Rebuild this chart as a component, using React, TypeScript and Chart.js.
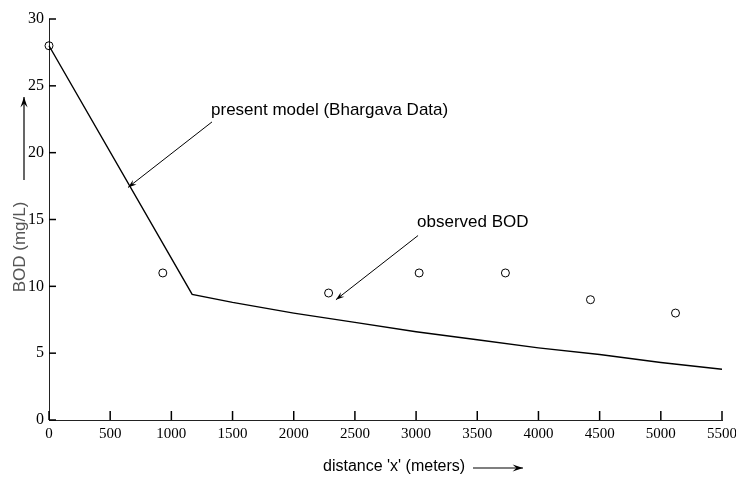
import React, { useEffect, useRef } from "react";
import { Chart, registerables } from "chart.js";

Chart.register(...registerables);

// Observed BOD data (distance in meters, BOD in mg/L)
const observedX = [0, 930, 2285, 3025, 3730, 4425, 5120];
const observedY = [28, 11, 9.5, 11, 11, 9, 8];

// Present model (Bhargava Data)
const modelX = [0, 1170, 1500, 2000, 2500, 3000, 3500, 4000, 4500, 5000, 5500];
const modelY = [28, 9.4, 8.8, 8.0, 7.3, 6.6, 6.0, 5.4, 4.9, 4.3, 3.8];

const xTicks = [0, 500, 1000, 1500, 2000, 2500, 3000, 3500, 4000, 4500, 5000, 5500];
const yTicks = [0, 5, 10, 15, 20, 25, 30];

const labelModel = "present model (Bhargava Data)";
const labelObserved = "observed BOD";
const xTitle = "distance 'x' (meters)";
const yTitle = "BOD (mg/L)";

function arrow(ctx: CanvasRenderingContext2D, x1: number, y1: number, x2: number, y2: number, head = 9) {
  ctx.beginPath();
  ctx.moveTo(x1, y1);
  ctx.lineTo(x2, y2);
  ctx.stroke();
  const a = Math.atan2(y2 - y1, x2 - x1);
  ctx.beginPath();
  ctx.moveTo(x2, y2);
  ctx.lineTo(x2 - head * Math.cos(a - 0.33), y2 - head * Math.sin(a - 0.33));
  ctx.lineTo(x2 - head * 0.6 * Math.cos(a), y2 - head * 0.6 * Math.sin(a));
  ctx.lineTo(x2 - head * Math.cos(a + 0.33), y2 - head * Math.sin(a + 0.33));
  ctx.closePath();
  ctx.fill();
}

const decorPlugin = {
  id: "decor",
  afterDraw(chart: any) {
    const ctx = chart.ctx as CanvasRenderingContext2D;
    const xs = chart.scales.x;
    const ys = chart.scales.y;
    const x0 = xs.getPixelForValue(0);
    const y0 = ys.getPixelForValue(0);
    ctx.save();
    ctx.strokeStyle = "#000";
    ctx.fillStyle = "#000";
    ctx.lineWidth = 1.5;
    // inward tick marks along both axes
    for (let i = 0; i < xTicks.length; i++) {
      const px = xs.getPixelForValue(xTicks[i]);
      ctx.beginPath();
      ctx.moveTo(px, y0);
      ctx.lineTo(px, y0 - 9);
      ctx.stroke();
    }
    for (let i = 0; i < yTicks.length; i++) {
      const py = ys.getPixelForValue(yTicks[i]);
      ctx.beginPath();
      ctx.moveTo(x0, py);
      ctx.lineTo(x0 + 7, py);
      ctx.stroke();
    }

    // annotations
    ctx.font = "17px 'Liberation Sans', Arial, sans-serif";
    ctx.textBaseline = "middle";
    ctx.textAlign = "left";
    ctx.fillText(labelModel, xs.getPixelForValue(1324), ys.getPixelForValue(23.2));
    ctx.fillText(labelObserved, xs.getPixelForValue(3008), ys.getPixelForValue(14.8));
    ctx.lineWidth = 1;
    arrow(ctx, xs.getPixelForValue(1332), ys.getPixelForValue(22.3), xs.getPixelForValue(646), ys.getPixelForValue(17.4));
    arrow(ctx, xs.getPixelForValue(3016), ys.getPixelForValue(13.8), xs.getPixelForValue(2345), ys.getPixelForValue(9.0));

    // axis titles
    ctx.font = "16px 'Liberation Sans', Arial, sans-serif";
    ctx.textAlign = "left";
    ctx.fillText(xTitle, 323, 467);
    ctx.lineWidth = 1.2;
    arrow(ctx, 473, 468, 523, 468, 11);

    ctx.save();
    ctx.translate(20, 247);
    ctx.rotate(-Math.PI / 2);
    ctx.textAlign = "center";
    ctx.fillStyle = "#555";
    ctx.font = "17px 'Liberation Sans', Arial, sans-serif";
    ctx.fillText(yTitle, 0, 0);
    ctx.restore();
    ctx.lineWidth = 1.2;
    arrow(ctx, 24, 180, 24, 97, 11);
    ctx.restore();
  },
};

export default function App() {
  const ref = useRef<HTMLCanvasElement | null>(null);
  useEffect(() => {
    if (!ref.current) return;
    const chart = new Chart(ref.current, {
      type: "scatter",
      data: {
        datasets: [
          {
            label: "present model",
            data: modelX.map((x, i) => ({ x, y: modelY[i] })),
            showLine: true,
            borderColor: "#000",
            borderWidth: 1.4,
            pointRadius: 0,
            tension: 0,
            clip: false as any,
          },
          {
            label: "observed BOD",
            data: observedX.map((x, i) => ({ x, y: observedY[i] })),
            showLine: false,
            pointStyle: "circle",
            pointRadius: 4,
            borderColor: "#000",
            borderWidth: 1,
            backgroundColor: "rgba(0,0,0,0)",
            clip: false as any,
          },
        ],
      },
      options: {
        animation: false,
        responsive: false,
        layout: { padding: { left: 0, right: 14, top: 19, bottom: 0 } },
        plugins: { legend: { display: false }, tooltip: { enabled: false } },
        scales: {
          x: {
            type: "linear",
            min: 0,
            max: 5500,
            afterFit: (s: any) => { s.height = 59; s.paddingRight = 0; s.paddingLeft = 0; },
            afterBuildTicks: (s: any) => { s.ticks = xTicks.map((v) => ({ value: v })); },
            ticks: {
              font: { family: "'Liberation Serif', 'Times New Roman', serif", size: 15 },
              color: "#000",
              padding: 5,
              maxRotation: 0,
              autoSkip: false,
              callback: (v: any) => String(v),
            },
            grid: { drawOnChartArea: false, drawTicks: false },
            border: { display: true, color: "#222", width: 1 },
          },
          y: {
            type: "linear",
            min: 0,
            max: 30,
            afterFit: (s: any) => { s.width = 49; s.paddingTop = 0; s.paddingBottom = 0; },
            afterBuildTicks: (s: any) => { s.ticks = yTicks.map((v) => ({ value: v })); },
            ticks: {
              font: { family: "'Liberation Serif', 'Times New Roman', serif", size: 16 },
              color: "#000",
              padding: 5,
              autoSkip: false,
              callback: (v: any) => String(v),
            },
            grid: { drawOnChartArea: false, drawTicks: false },
            border: { display: true, color: "#222", width: 1 },
          },
        },
      },
      plugins: [decorPlugin],
    });
    return () => chart.destroy();
  }, []);
  return (
    <div style={{ position: "absolute", left: 0, top: 0, width: 736, height: 479, background: "#fff" }}>
      <canvas ref={ref} width={736} height={479} style={{ display: "block" }} />
    </div>
  );
}
